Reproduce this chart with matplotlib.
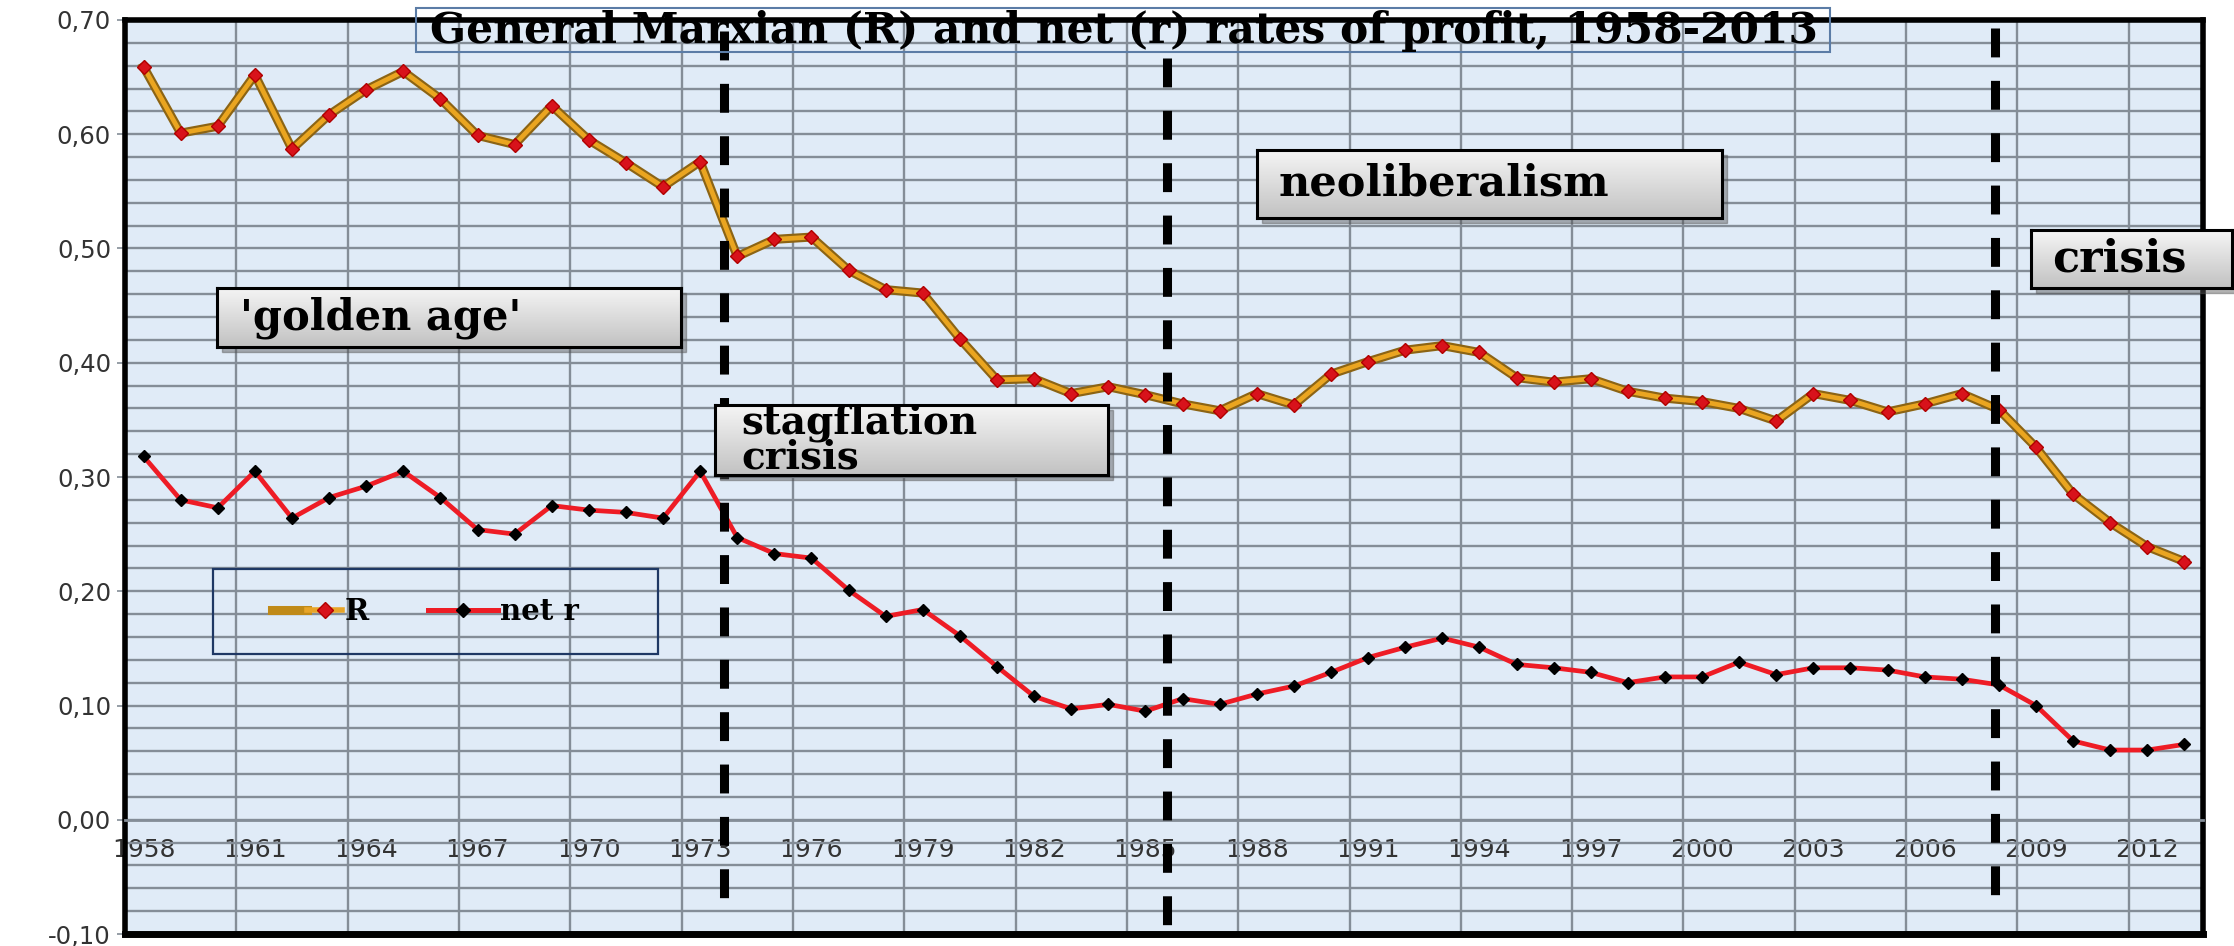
import numpy as np
import matplotlib.pyplot as plt
from matplotlib.colors import LinearSegmentedColormap
from matplotlib.legend_handler import HandlerTuple
from matplotlib.lines import Line2D
from matplotlib.patches import Rectangle

# data
years = list(range(1958, 2014))
R = [0.659, 0.601, 0.607, 0.652, 0.587, 0.617, 0.639, 0.655, 0.631, 0.599,
     0.591, 0.625, 0.595, 0.575, 0.554, 0.576, 0.493, 0.508, 0.510, 0.481,
     0.464, 0.461, 0.421, 0.385, 0.386, 0.373, 0.379, 0.372, 0.364, 0.358,
     0.373, 0.363, 0.390, 0.401, 0.411, 0.415, 0.409, 0.387, 0.383, 0.386,
     0.375, 0.369, 0.366, 0.360, 0.349, 0.373, 0.367, 0.357, 0.364, 0.373,
     0.359, 0.326, 0.285, 0.260, 0.239, 0.226]
net_r = [0.318, 0.280, 0.273, 0.305, 0.264, 0.282, 0.292, 0.305, 0.282, 0.254,
         0.250, 0.275, 0.271, 0.269, 0.264, 0.305, 0.247, 0.233, 0.229, 0.201,
         0.178, 0.184, 0.161, 0.134, 0.108, 0.097, 0.101, 0.095, 0.106, 0.101,
         0.110, 0.117, 0.129, 0.142, 0.151, 0.159, 0.151, 0.136, 0.133, 0.129,
         0.120, 0.125, 0.125, 0.138, 0.127, 0.133, 0.133, 0.131, 0.125, 0.123,
         0.118, 0.100, 0.069, 0.061, 0.061, 0.066]
event_years = [1973.65, 1985.57, 2007.9]
tick_years = years[::3]
y_ticks = [-0.1, 0.0, 0.1, 0.2, 0.3, 0.4, 0.5, 0.6, 0.7]

title = "General Marxian (R) and net (r) rates of profit, 1958-2013"
period_labels = ["'golden age'", "stagflation\ncrisis", "neoliberalism", "crisis"]

W, H = 2234, 946
fig = plt.figure(figsize=(W / 100, H / 100), dpi=100)


def fbox(x0, y0, x1, y1):
    # pixel box (top-left origin) -> figure fraction rect
    return [x0 / W, 1 - y1 / H, (x1 - x0) / W, (y1 - y0) / H]


grid_c = '#848d97'
ax = fig.add_axes(fbox(125, 20, 2203, 934))
ax.set_facecolor('#e0ebf7')
x = np.arange(len(years))
ax.set_xlim(-0.5, len(years) - 0.5)
ax.set_ylim(-0.1, 0.7)

# grid
ax.set_yticks(y_ticks)
ax.set_yticklabels([f"{v:.2f}".replace('.', ',') for v in y_ticks])
ax.set_yticks(np.arange(-0.1, 0.7, 0.02), minor=True)
ax.set_xticks([years.index(y) for y in tick_years])
ax.set_xticklabels([str(y) for y in tick_years])
ax.set_xticks(np.arange(-0.5, len(years), 3), minor=True)
ax.grid(True, which='both', axis='y', color=grid_c, lw=1.7, zorder=0)
ax.grid(True, which='minor', axis='x', color=grid_c, lw=1.7, zorder=0)
ax.set_axisbelow(True)

ax.tick_params(axis='y', which='major', length=6, width=1.2, color=grid_c,
               labelsize=17.5, labelcolor='#333333', pad=4)
ax.tick_params(axis='y', which='minor', length=0)
ax.tick_params(axis='x', which='both', length=0, labelsize=18,
               labelcolor='#333333', pad=13)
for lab in ax.get_xticklabels() + ax.get_yticklabels():
    lab.set_family('DejaVu Sans')

ax.spines['bottom'].set_position(('data', 0))
ax.spines['bottom'].set_color(grid_c)
ax.spines['bottom'].set_linewidth(2)
for s in ['left', 'top', 'right']:
    ax.spines[s].set_color('black')
    ax.spines[s].set_linewidth(4)
ax.axhline(-0.1, color='black', lw=5, clip_on=False, zorder=5)

# series
ax.plot(x, R, color='#8c6414', lw=6.5, zorder=3, solid_joinstyle='round')
ax.plot(x, R, color='#eaa520', lw=3.4, zorder=3.1, marker='D', ms=7.5,
        mfc='#d8121b', mec='#b00000', solid_joinstyle='round')
ax.plot(x, net_r, color='#ee1c25', lw=3.4, zorder=3, marker='D', ms=6.5,
        mfc='black', mec='black')

# period boundaries
for ev, top, bot in zip(event_years, [0.69, 0.667, 0.693], [-0.086, -0.093, -0.085]):
    ax.plot([ev - years[0]] * 2, [top, bot], color='black', lw=6.5,
            ls=(0, (3.2, 2.6)), zorder=4, solid_capstyle='butt')

# legend
h_R = (Line2D([], [], color='#c08a18', lw=6.5),
       Line2D([], [], color='#e8a528', lw=4, marker='D', ms=8,
              mfc='#d8121b', mec='#b00000'))
h_r = Line2D([], [], color='#ee1c25', lw=3.6, marker='D', ms=7, mfc='black', mec='black')
leg = ax.legend([h_R, h_r], ['R', 'net r'], ncol=2, frameon=False,
                loc='center left', bbox_to_anchor=(272 / W, 1 - 612 / H),
                bbox_transform=fig.transFigure, borderaxespad=0, borderpad=0,
                handlelength=2.4, handletextpad=0.1, columnspacing=2.0,
                handler_map={tuple: HandlerTuple(ndivide=None)},
                prop={'family': 'DejaVu Serif', 'weight': 'bold', 'size': 21})
fig.patches.append(Rectangle((213 / W, 1 - 654 / H), 445 / W, 85 / H,
                             transform=fig.transFigure, fill=False,
                             edgecolor='#1f3864', lw=1.6, zorder=2))

# title box
fig.patches.append(Rectangle((416 / W, 1 - 52 / H), 1414 / W, 44 / H,
                             transform=fig.transFigure, fill=False,
                             edgecolor='#5b7ca6', lw=1.5, zorder=2))
fig.text(1124 / W, 1 - 31 / H, title, ha='center', va='center',
         family='DejaVu Serif', weight='bold', size=30.5, zorder=6)

# annotation boxes
grad = LinearSegmentedColormap.from_list('box', ['#f5f5f5', '#c2c2c2'])
boxes = [((217, 288, 681, 347), 240, 30),
         ((715, 405, 1108, 475), 741, 28),
         ((1257, 150, 1722, 218), 1279, 31),
         ((2031, 230, 2232, 288), 2052, 32)]
for (rect, tx, fs), text in zip(boxes, period_labels):
    x0, y0, x1, y1 = rect
    fig.patches.append(Rectangle(((x0 + 5) / W, 1 - (y1 + 5) / H), (x1 - x0) / W,
                                 (y1 - y0) / H, transform=fig.transFigure,
                                 color='#555555', alpha=0.45, zorder=2.5))
    bax = fig.add_axes(fbox(x0, y0, x1, y1), zorder=3)
    bax.imshow(np.linspace(0, 1, 64).reshape(-1, 1), cmap=grad, aspect='auto',
               extent=(0, 1, 0, 1))
    bax.set_xticks([])
    bax.set_yticks([])
    for s in bax.spines.values():
        s.set_linewidth(2.2)
        s.set_color('black')
    bax.text((tx - x0) / (x1 - x0), 0.5, text, ha='left', va='center',
             family='DejaVu Serif', weight='bold', size=fs, linespacing=0.9,
             transform=bax.transAxes)

fig.savefig('out.png', dpi=100)
